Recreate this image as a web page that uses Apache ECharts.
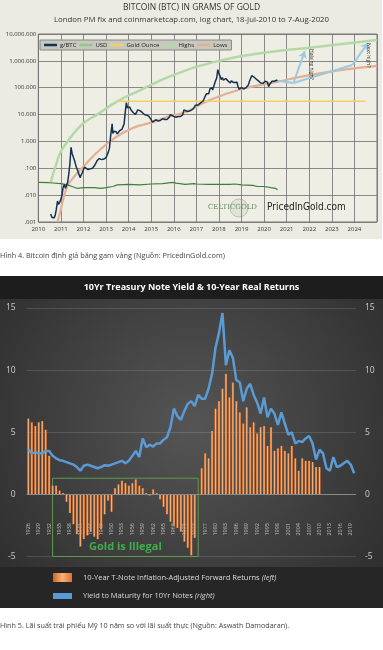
<!DOCTYPE html>
<html><head><meta charset="utf-8">
<script src="https://cdn.jsdelivr.net/npm/echarts@6/dist/echarts.min.js"></script>
<style>html,body{margin:0;padding:0;background:#fff;}#c{width:383px;height:650px;}</style>
</head><body><div id="c"></div>
<script>
// ---------- Chart 1: Bitcoin in grams of gold ----------
const btcDates = [2010.55,2010.6,2010.65,2010.7,2010.75,2010.8,2010.85,2010.9,2010.95,2011.0,2011.05,2011.1,2011.15,2011.2,2011.25,2011.3,2011.35,2011.4,2011.45,2011.5,2011.55,2011.6,2011.65,2011.7,2011.75,2011.8,2011.85,2011.9,2011.95,2012.0,2012.05,2012.1,2012.2,2012.3,2012.4,2012.5,2012.6,2012.65,2012.7,2012.75,2012.8,2012.9,2013.0,2013.1,2013.15,2013.2,2013.27,2013.3,2013.35,2013.45,2013.5,2013.55,2013.6,2013.7,2013.75,2013.8,2013.85,2013.9,2013.95,2014.0,2014.05,2014.1,2014.15,2014.2,2014.3,2014.35,2014.4,2014.45,2014.5,2014.6,2014.7,2014.75,2014.8,2014.9,2014.95,2015.0,2015.05,2015.1,2015.2,2015.3,2015.4,2015.45,2015.5,2015.6,2015.7,2015.8,2015.85,2015.9,2016.0,2016.1,2016.2,2016.3,2016.4,2016.45,2016.5,2016.6,2016.7,2016.8,2016.9,2016.95,2017.0,2017.05,2017.1,2017.2,2017.25,2017.3,2017.4,2017.45,2017.5,2017.55,2017.6,2017.7,2017.72,2017.8,2017.85,2017.9,2017.95,2017.98,2018.0,2018.05,2018.1,2018.15,2018.2,2018.25,2018.3,2018.35,2018.4,2018.45,2018.5,2018.55,2018.6,2018.65,2018.7,2018.8,2018.85,2018.9,2018.95,2019.0,2019.1,2019.2,2019.3,2019.35,2019.4,2019.45,2019.5,2019.55,2019.6,2019.65,2019.7,2019.75,2019.8,2019.85,2019.9,2019.95,2020.0,2020.05,2020.1,2020.15,2020.2,2020.25,2020.3,2020.35,2020.4,2020.45,2020.5,2020.55,2020.6];
const btcValues = [0.002,0.0015,0.0016,0.0014,0.0018,0.003,0.006,0.0045,0.0055,0.007,0.01,0.02,0.025,0.018,0.02,0.03,0.06,0.15,0.6,0.35,0.3,0.2,0.14,0.1,0.08,0.06,0.045,0.05,0.07,0.09,0.11,0.095,0.09,0.095,0.1,0.13,0.19,0.2,0.23,0.2,0.21,0.22,0.25,0.4,0.55,1.5,4.5,2.0,2.4,2.3,1.9,2.2,2.5,2.8,3.3,4.5,12,28,18,20,19,15,14,12,10,12,15,14,14,12,10,8.5,9.5,8.5,7.8,6.5,5.2,6,6.4,5.8,6,6.2,7,6.6,6.6,8,10,11,8.5,8,8.5,8.5,10,15,14,13,13.5,15,18,22,25,22,25,28,27,32,50,60,62,60,90,100,82,135,180,230,470,360,330,270,200,240,190,170,220,200,180,160,150,180,160,155,165,160,105,88,95,100,90,100,125,170,200,280,240,250,220,210,200,180,165,150,145,145,150,175,185,160,110,135,150,175,165,175,165,190,180];
const usdDates = [2010.0,2010.5,2011.0,2011.3,2011.5,2011.7,2012.0,2012.5,2012.75,2013.0,2013.3,2013.5,2014.0,2014.5,2015.0,2015.5,2015.95,2016.1,2016.5,2016.9,2017.0,2017.5,2018.0,2018.5,2018.7,2019.0,2019.5,2019.7,2020.0,2020.3,2020.5,2020.6];
const usdValues = [0.030,0.029,0.027,0.024,0.021,0.018,0.019,0.019,0.018,0.019,0.021,0.024,0.025,0.024,0.026,0.027,0.030,0.028,0.025,0.027,0.026,0.025,0.025,0.025,0.026,0.024,0.023,0.021,0.021,0.019,0.018,0.016];
const goldOunceDates = [2013.5,2024.5];
const goldOunceValues = [31.1,31.1];
const highsDates = [2010.55,2010.8,2011.0,2011.3,2011.7,2012.1,2012.6,2013.5,2014.5,2016.0,2018.0,2020.0,2022.0,2025.0];
const highsValues = [0.03,0.15,0.42,1.0,2.7,5.5,10,31,80,300,1000,2000,3100,6000];
const lowsDates = [2010.85,2011.0,2011.26,2011.6,2012.0,2012.73,2013.47,2014.2,2014.94,2015.7,2016.57,2017.46,2018.9,2020.4,2021.9,2023.3,2025.0];
const lowsValues = [0.001,0.003,0.019,0.05,0.117,0.49,1.5,3.2,4.9,8,13,31,84,155,280,440,650];
const yTickLabels = {'0.001':'.001','0.01':'.010','0.1':'.100','1':'1.000','10':'10.000','100':'100.000','1000':'1,000.000','10000':'10,000.000'};

// ---------- Chart 2: 10Yr Treasury ----------
const years = []; for (let y = 1926; y <= 2020; y++) years.push(String(y));
const realReturns = [6.1,5.8,5.5,5.8,5.9,5.2,3.1,0.7,0.7,0.3,0.1,
 -0.6,-1.5,-2.4,-3.2,-4.2,-3.6,-3.3,-3.0,-3.4,-3.6,-2.8,-1.6,-0.5,-1.4,
 0.5,0.8,1.1,0.9,0.7,0.9,1.2,0.7,0.5,0.1,-0.1,0.4,0.1,
 -0.4,-1.0,-1.6,-2.2,-2.5,-2.7,-3.0,-3.8,-4.3,-4.9,-3.5,0,
 2.1,3.3,2.9,5.1,6.9,7.5,8.5,9.7,7.8,9.0,7.5,6.6,5.7,7.0,5.4,5.8,4.9,5.4,5.5,3.9,5.4,3.5,3.7,3.9,3.5,3.3,3.9,2.9,1.9,2.9,2.7,2.7,2.6,2.2,2.2];
const yieldToMaturity = [3.6,3.3,3.4,3.3,3.3,3.5,3.5,3.1,2.9,2.75,2.7,2.6,2.5,2.4,2.2,1.9,2.3,2.4,2.3,2.2,2.1,2.2,2.35,2.3,2.4,2.5,2.6,2.7,2.5,2.7,3.1,3.5,3.0,4.5,3.8,4.0,3.85,4.1,4.1,4.4,4.6,5.4,6.9,6.3,6.0,6.7,7.3,7.5,7.1,8.0,7.7,7.7,8.5,9.7,11.8,13.0,14.6,10.4,11.6,11.0,9.2,9.0,7.5,8.5,8.9,8.0,7.4,6.5,7.8,6.2,6.9,6.5,5.6,6.6,5.7,4.8,5.0,4.1,4.3,4.2,4.5,4.7,4.1,2.8,3.6,3.3,2.1,1.9,3.0,2.2,2.3,2.5,2.7,2.4,1.7];

const pair = (xs, ys) => xs.map((x, i) => [x, ys[i]]);
const chart = echarts.init(document.getElementById('c'), null, {renderer: 'canvas'});
const FF = '"Open Sans", "Noto Sans", sans-serif';

const option = {
  animation: false,
  textStyle: {fontFamily: FF},
  graphic: [
    {type: 'rect', z: -10, shape: {x: 0, y: 0, width: 382, height: 239}, style: {fill: '#ecebe3'}},
    {type: 'rect', z: -10, shape: {x: 0, y: 276, width: 383, height: 332},
      style: {fill: new echarts.graphic.RadialGradient(0.5, 0.45, 0.7, [{offset: 0, color: '#555555'}, {offset: 1, color: '#303030'}])}},
    {type: 'rect', z: -9, shape: {x: 0, y: 276, width: 383, height: 23}, style: {fill: '#1d1d1d'}},
    {type: 'rect', z: -9, shape: {x: 0, y: 567, width: 383, height: 41}, style: {fill: '#262626'}},
    {type: 'text', z: 10, x: 208, y: 204, style: {text: 'CELTICGOLD', fill: '#5f8f62', font: '7px "DejaVu Serif", serif'}},
    {type: 'circle', z: 10, shape: {cx: 239, cy: 208, r: 9}, style: {fill: 'rgba(120,150,120,0.12)', stroke: 'rgba(110,140,110,0.5)', lineWidth: 0.8}},
    {type: 'text', z: 10, x: 267, y: 202, style: {text: 'PricedInGold.com', fill: '#222', font: '10px "DejaVu Sans Condensed", sans-serif'}},
    {type: 'text', z: 10, x: 314, y: 49, rotation: -Math.PI / 2, style: {text: 'Halving high?', fill: '#333', font: '5px ' + FF}},
    {type: 'text', z: 10, x: 371, y: 43, rotation: -Math.PI / 2, style: {text: 'Next high?', fill: '#333', font: '5px ' + FF}}
  ],
  title: [
    {text: 'BITCOIN (BTC) IN GRAMS OF GOLD', subtext: 'London PM fix and coinmarketcap.com, log chart, 18-Jul-2010 to 7-Aug-2020',
      left: 'center', top: 3.5, itemGap: 3, padding: 0,
      textStyle: {fontSize: 8.5, fontWeight: 'normal', color: '#333', fontFamily: FF},
      subtextStyle: {fontSize: 7.8, color: '#333', fontFamily: FF}},
    {text: 'Hình 4. Bitcoin định giá bằng gam vàng (Nguồn: PricedinGold.com)', left: 0, top: 252, padding: 0,
      textStyle: {fontSize: 7.3, fontWeight: 'normal', color: '#444', fontFamily: FF}},
    {text: '10Yr Treasury Note Yield & 10-Year Real Returns', left: 'center', top: 283, padding: 0,
      textStyle: {fontSize: 9, fontWeight: 'bold', color: '#fff', fontFamily: FF}},
    {text: 'Hình 5. Lãi suất trái phiếu Mỹ 10 năm so với lãi suất thực (Nguồn: Aswath Damodaran).', left: 0, top: 622, padding: 0,
      textStyle: {fontSize: 7.2, fontWeight: 'normal', color: '#444', fontFamily: FF}}
  ],
  legend: [
    {left: 40, top: 40, orient: 'horizontal', padding: [2, 4], itemGap: 3, itemWidth: 13, itemHeight: 2.5,
      backgroundColor: '#c8c8be', borderColor: '#888', borderWidth: 1, icon: 'rect',
      textStyle: {fontSize: 6, color: '#222', padding: [0, 0, 0, -2]}, data: ['g/BTC', 'USD', 'Gold Ounce', 'Highs', 'Lows']},
    {left: 53, top: 573, padding: 0, itemWidth: 19, itemHeight: 9, icon: 'rect', itemGap: 0,
      data: ['10-Year T-Note Inflation-Adjusted Forward Returns'],
      formatter: n => '{a|' + n + '} {b|(left)}',
      textStyle: {color: '#ddd', fontSize: 7.5, padding: [0, 0, 0, 6], rich: {a: {fontSize: 7.5, color: '#ddd'}, b: {fontSize: 7.5, color: '#ddd', fontStyle: 'italic'}}}},
    {left: 53, top: 592, padding: 0, itemWidth: 19, itemHeight: 6, icon: 'rect', itemGap: 0,
      data: ['Yield to Maturity for 10Yr Notes'],
      formatter: n => '{a|' + n + '} {b|(right)}',
      textStyle: {color: '#ddd', fontSize: 7.5, padding: [0, 0, 0, 6], rich: {a: {fontSize: 7.5, color: '#ddd'}, b: {fontSize: 7.5, color: '#ddd', fontStyle: 'italic'}}}}
  ],
  grid: [
    {left: 38.3, top: 34, width: 338.7, height: 188, show: true, backgroundColor: '#efeee5', borderColor: '#777', borderWidth: 1},
    {left: 26.6, top: 308, width: 329.3, height: 248.5}
  ],
  xAxis: [
    {type: 'value', gridIndex: 0, min: 2010, max: 2025, interval: 1,
      axisLine: {show: false}, axisTick: {show: false},
      splitLine: {show: true, lineStyle: {color: '#6e6e6e', width: 0.8}},
      axisLabel: {fontSize: 6, color: '#333', margin: 4, formatter: v => v === 2025 ? '' : String(v)}},
    {type: 'category', gridIndex: 1, data: years, boundaryGap: true, position: 'bottom',
      axisLine: {show: false, onZero: false}, axisTick: {show: false},
      axisLabel: {interval: 2, rotate: 90, fontSize: 5.5, color: '#bbb', margin: -33.5}}
  ],
  yAxis: [
    {type: 'log', gridIndex: 0, logBase: 10, min: 0.001, max: 10000,
      axisLine: {show: false}, axisTick: {show: false},
      splitLine: {show: true, lineStyle: {color: '#6e6e6e', width: 0.8}},
      axisLabel: {fontSize: 6, color: '#333', margin: 2, formatter: v => yTickLabels[String(+v.toPrecision(3))] || ''}},
    {type: 'value', gridIndex: 1, min: -5, max: 15, interval: 5, position: 'left',
      axisLine: {show: false}, axisTick: {show: false},
      splitLine: {show: true, lineStyle: {color: 'rgba(255,255,255,0.13)', width: 1}},
      axisLabel: {fontSize: 8.5, color: '#ccc', margin: 11}},
    {type: 'value', gridIndex: 1, min: -5, max: 15, interval: 5, position: 'right',
      axisLine: {show: false}, axisTick: {show: false}, splitLine: {show: false},
      axisLabel: {fontSize: 8.5, color: '#ccc', margin: 9}}
  ],
  series: [
    {name: 'Highs', type: 'line', xAxisIndex: 0, yAxisIndex: 0, smooth: true, symbol: 'none',
      lineStyle: {color: '#b3d9a6', width: 2.5}, itemStyle: {color: '#b3d9a6'}, data: pair(highsDates, highsValues), z: 2},
    {name: 'Lows', type: 'line', xAxisIndex: 0, yAxisIndex: 0, smooth: true, symbol: 'none',
      lineStyle: {color: '#e3b097', width: 2.2}, itemStyle: {color: '#e3b097'}, data: pair(lowsDates, lowsValues), z: 2},
    {name: 'Gold Ounce', type: 'line', xAxisIndex: 0, yAxisIndex: 0, symbol: 'none',
      lineStyle: {color: '#f2cf6b', width: 1.5}, itemStyle: {color: '#f2cf6b'}, data: pair(goldOunceDates, goldOunceValues), z: 2},
    {name: 'USD', type: 'line', xAxisIndex: 0, yAxisIndex: 0, symbol: 'none',
      lineStyle: {color: '#3f7f3c', width: 1.2}, itemStyle: {color: '#8fc98a'}, data: pair(usdDates, usdValues), z: 3},
    {name: 'g/BTC', type: 'line', xAxisIndex: 0, yAxisIndex: 0, symbol: 'none',
      lineStyle: {color: '#15324f', width: 1.5}, itemStyle: {color: '#15324f'}, data: pair(btcDates, btcValues), z: 4},
    {name: 'arrows', type: 'line', xAxisIndex: 0, yAxisIndex: 0, symbol: 'none', data: [], z: 5,
      markLine: {silent: true, symbol: ['none', 'none'], symbolSize: 7, label: {show: false},
        lineStyle: {color: '#9ccae0', width: 2, type: 'solid'},
        data: [
          [{coord: [2020.6, 180]}, {coord: [2021.3, 150]}],
          [{coord: [2021.3, 150]}, {coord: [2021.8, 2300], symbol: 'arrow'}],
          [{coord: [2021.3, 150]}, {coord: [2023.9, 700]}],
          [{coord: [2023.9, 700]}, {coord: [2024.6, 4600], symbol: 'arrow'}]
        ]}},
    {name: '10-Year T-Note Inflation-Adjusted Forward Returns', type: 'bar', xAxisIndex: 1, yAxisIndex: 1,
      barWidth: '62%',
      itemStyle: {color: new echarts.graphic.LinearGradient(0, 0, 1, 0, [{offset: 0, color: '#d2651f'}, {offset: 0.5, color: '#f7b27a'}, {offset: 1, color: '#dc7230'}])},
      data: realReturns,
      markLine: {silent: true, symbol: ['none', 'none'], label: {show: false},
        lineStyle: {color: '#8a8a8a', width: 1, type: 'solid'}, data: [{yAxis: 0}]},
      markArea: {silent: true, itemStyle: {color: 'rgba(0,0,0,0)', borderColor: '#5d9a4f', borderWidth: 1},
        label: {show: true, position: 'insideBottom', distance: 5, formatter: 'Gold is Illegal', color: '#3fae49', fontSize: 11, fontWeight: 'bold'},
        data: [[{coord: ['1933', 1.3]}, {coord: ['1975', -5.4]}]]}},
    {name: 'Yield to Maturity for 10Yr Notes', type: 'line', xAxisIndex: 1, yAxisIndex: 2, symbol: 'none',
      lineStyle: {color: '#5b9bd5', width: 2.5}, itemStyle: {color: '#5b9bd5'}, data: yieldToMaturity, z: 5}
  ]
};
chart.setOption(option);
</script></body></html>
